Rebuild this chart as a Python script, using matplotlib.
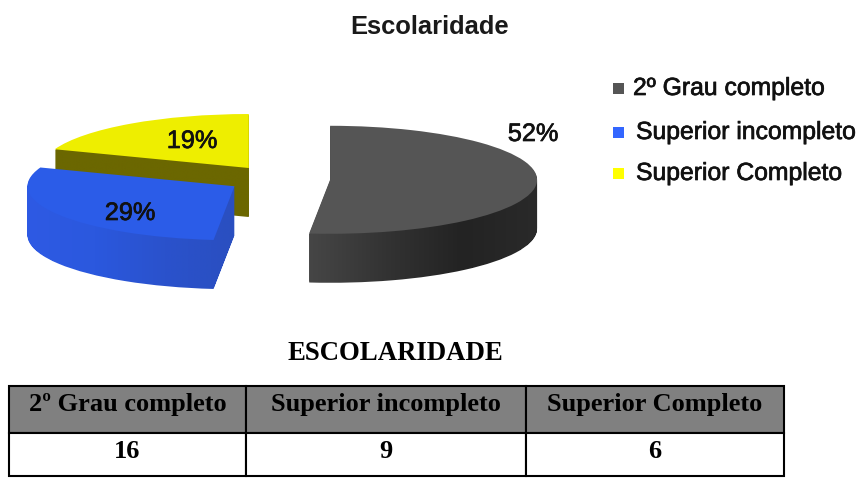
import numpy as np
import matplotlib
matplotlib.use("Agg")
import matplotlib.pyplot as plt
import matplotlib.patheffects as pe
from matplotlib.colors import LinearSegmentedColormap
from matplotlib.patches import Rectangle
from matplotlib.path import Path

title = "Escolaridade"
table_title = "ESCOLARIDADE"
categories = ["2º Grau completo", "Superior incompleto", "Superior Completo"]
counts = [16, 9, 6]

W, H = 866, 479
RX, RY, DEPTH = 207.0, 54.0, 49
top_colors = ["#555555", "#2b5ce8", "#eeee00"]
legend_colors = ["#555555", "#3366ff", "#ffff00"]
side_ramps = [["#464646", "#333333", "#232323", "#2a2a2a"],
              ["#2e5ae4", "#2b58de", "#2a52cc", "#2a4fc0"],
              ["#6b6700", "#6b6700"]]
layers = [(5, 6), (3, 4), (1, 2)]

fig = plt.figure(figsize=(W / 100, H / 100), dpi=100, facecolor="white")
ax = fig.add_axes([0, 0, 1, 1])
wedges, _ = ax.pie(counts, explode=[0.25] * 3, startangle=90, counterclock=False,
                   colors=top_colors, center=(278.4 / RX, -179.1 / RY),
                   wedgeprops={"linewidth": 0})
ax.set_aspect("auto")

for wedge, ramp, (zs, zt) in zip(wedges, side_ramps, layers):
    wedge.set_zorder(zt)
    base = wedge.get_path()
    copies = []
    for k in range(1, DEPTH + 1):
        copies.append(Path(base.vertices - [0, k / RY], base.codes))
    swept = Path.make_compound_path(*copies)
    x0, y0 = swept.vertices.min(axis=0)
    x1, y1 = swept.vertices.max(axis=0)
    cmap = LinearSegmentedColormap.from_list("side", ramp)
    im = ax.imshow(np.linspace(0, 1, 256)[None, :], cmap=cmap, aspect="auto",
                   extent=(x0, x1, y0, y1), zorder=zs, interpolation="bilinear")
    im.set_clip_path(swept, ax.transData)

ax.set_xlim(0, W / RX)
ax.set_ylim(-H / RY, 0)
ax.set_aspect("auto")
ax.axis("off")

# overlay in pixel coordinates for text, legend and table
ov = fig.add_axes([0, 0, 1, 1], facecolor="none")
ov.set_xlim(0, W)
ov.set_ylim(H, 0)
ov.axis("off")

sans = "Liberation Sans"
serif = "Liberation Serif"
heavy = [pe.withStroke(linewidth=0.5, foreground="#111111")]

ov.text(430, 27, title, ha="center", va="center", family=sans,
        fontweight="bold", fontsize=18.4, color="#1a1a1a")

total = sum(counts)
label_pos = [(533, 134), (130, 213), (192, 141)]
for v, (x, y) in zip(counts, label_pos):
    ov.text(x, y, f"{round(100 * v / total)}%", ha="center", va="center",
            family=sans, fontsize=18.2, color="#111111", path_effects=heavy)

legend_y = [88, 132, 173]
for name, col, y, x in zip(categories, legend_colors, legend_y, [633, 636, 636]):
    ov.add_patch(Rectangle((613, y - 5.5), 11, 11, facecolor=col, edgecolor="none"))
    ov.text(x, y, name, ha="left", va="center", family=sans,
            fontsize=17.8, color="#111111", path_effects=heavy)

ov.text(395.5, 353, table_title, ha="center", va="center", family=serif,
        fontweight="bold", fontsize=19.3, color="black")

col_edges = [9, 246, 526, 784]
row_edges = [386, 433, 476]
for left, right, name, val in zip(col_edges[:-1], col_edges[1:], categories, counts):
    ov.add_patch(Rectangle((left, row_edges[0]), right - left, row_edges[1] - row_edges[0],
                           facecolor="#808080", edgecolor="black", linewidth=1.5))
    ov.add_patch(Rectangle((left, row_edges[1]), right - left, row_edges[2] - row_edges[1],
                           facecolor="white", edgecolor="black", linewidth=1.5))
    mid = (left + right) / 2
    ov.text(mid, 405, name, ha="center", va="center", family=serif,
            fontweight="bold", fontsize=19, color="black")
    ov.text(mid, 452, str(val), ha="center", va="center", family=serif,
            fontweight="bold", fontsize=19, color="black")

fig.savefig("out.png", dpi=100, facecolor="white")
